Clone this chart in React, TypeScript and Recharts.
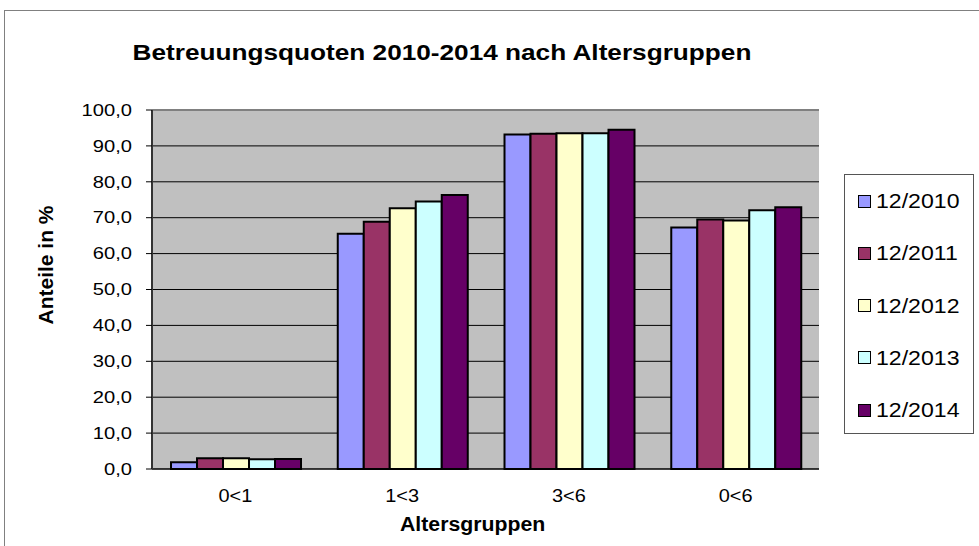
import React from 'react';
import { BarChart, Bar, XAxis, YAxis, CartesianGrid, ReferenceLine } from 'recharts';

const categories = ['0<1', '1<3', '3<6', '0<6'];
const seriesNames = ['12/2010', '12/2011', '12/2012', '12/2013', '12/2014'];
const s2010 = [1.9, 65.5, 93.2, 67.3];
const s2011 = [3.0, 68.9, 93.4, 69.5];
const s2012 = [3.0, 72.6, 93.5, 69.2];
const s2013 = [2.7, 74.5, 93.5, 72.1];
const s2014 = [2.8, 76.3, 94.5, 72.9];
const seriesValues = [s2010, s2011, s2012, s2013, s2014];
const seriesColors = ['#9999FF', '#993366', '#FFFFCC', '#CCFFFF', '#660066'];
const yTicks = [0, 10, 20, 30, 40, 50, 60, 70, 80, 90, 100];
const boundaryTicks = [0, 1, 2, 3, 4];

const data = categories.map((c, i) => {
  const row: any = { name: c };
  seriesNames.forEach((s, k) => {
    row[s] = seriesValues[k][i];
  });
  return row;
});

const FONT = '"Liberation Sans", Arial, sans-serif';
const fmt = (v: number) => v.toFixed(1).replace('.', ',');

const YTick = (props: any) => {
  const { x, y, payload } = props;
  return (
    <g transform={`translate(${x},${y})`}>
      <text x={0} y={0} dy="0.36em" textAnchor="end" fontSize={16} fontFamily={FONT} fill="#000" transform="scale(1.26,1)">
        {fmt(payload.value)}
      </text>
    </g>
  );
};

const XTick = (props: any) => {
  const { x, y, payload } = props;
  return (
    <g transform={`translate(${x},${y})`}>
      <text x={0} y={32} textAnchor="middle" fontSize={19} fontFamily={FONT} fill="#000" transform="scale(1.05,1)">
        {payload.value}
      </text>
    </g>
  );
};

export default function App() {
  return (
    <div style={{ position: 'absolute', left: 0, top: 0, width: 979, height: 546, background: '#fff', overflow: 'hidden', fontFamily: FONT }}>
      <div style={{ position: 'absolute', left: 4, top: 10, width: 1100, height: 700, borderTop: '1px solid #808080', borderLeft: '1px solid #808080' }} />
      <div style={{ position: 'absolute', left: 0, top: 0 }}>
        <BarChart
          width={979}
          height={546}
          data={data}
          margin={{ top: 110, right: 160, left: 0, bottom: 0 }}
          barCategoryGap="11.4%"
          barGap={0}
        >
          <CartesianGrid vertical={false} stroke="#000" fill="#C0C0C0" fillOpacity={1} />
          <XAxis
            xAxisId="a0"
            type="number"
            domain={[0, 4]}
            ticks={boundaryTicks}
            allowDataOverflow
            tick={false}
            tickSize={6}
            tickLine={{ stroke: '#000' }}
            axisLine={{ stroke: '#000', strokeWidth: 1 }}
            height={1}
          />
          <XAxis
            xAxisId="b1"
            dataKey="name"
            tickLine={false}
            tickSize={0}
            tickMargin={0}
            axisLine={false}
            tick={<XTick />}
            height={76}
            interval={0}
          />
          <YAxis
            domain={[0, 100]}
            ticks={yTicks}
            width={152}
            tickSize={6}
            tickMargin={14}
            tickLine={{ stroke: '#000' }}
            axisLine={{ stroke: '#333', strokeWidth: 2 }}
            tick={<YTick />}
            interval={0}
          />
          <ReferenceLine xAxisId="a0" x={4} stroke="#A0A0A0" strokeWidth={2} />
          <ReferenceLine xAxisId="a0" y={100} stroke="#808080" strokeWidth={2} />
          {seriesNames.map((s, k) => (
            <Bar
              key={s}
              xAxisId="b1"
              dataKey={s}
              fill={seriesColors[k]}
              stroke="#000"
              strokeWidth={2}
              isAnimationActive={false}
            />
          ))}
        </BarChart>
      </div>
      <div style={{ position: 'absolute', left: 131, top: 40, width: 621, textAlign: 'center', fontSize: 22, fontWeight: 'bold', whiteSpace: 'nowrap', lineHeight: '26px' }}>
        <span style={{ display: 'inline-block', transform: 'scaleX(1.19)' }}>Betreuungsquoten 2010-2014 nach Altersgruppen</span>
      </div>
      <div style={{ position: 'absolute', left: 373, top: 512, width: 200, textAlign: 'center', fontSize: 19.5, fontWeight: 'bold', whiteSpace: 'nowrap', lineHeight: '24px' }}>
        <span style={{ display: 'inline-block', transform: 'scaleX(1.09)' }}>Altersgruppen</span>
      </div>
      <div style={{ position: 'absolute', left: 46, top: 265, width: 0, height: 0 }}>
        <div style={{ position: 'absolute', left: -100, top: -13, width: 200, textAlign: 'center', fontSize: 21, fontWeight: 'bold', whiteSpace: 'nowrap', lineHeight: '26px', transform: 'rotate(-90deg)' }}>
          Anteile in %
        </div>
      </div>
      <div style={{ position: 'absolute', left: 844, top: 174, width: 128, height: 258, border: '1px solid #555', background: '#fff' }}>
        {seriesNames.map((s, k) => (
          <div key={s} style={{ position: 'absolute', left: 13, top: 14 + k * 52.3, height: 24, display: 'flex', alignItems: 'center', whiteSpace: 'nowrap' }}>
            <div style={{ width: 11, height: 11, background: seriesColors[k], border: '1.5px solid #000', marginRight: 5 }} />
            <span style={{ fontSize: 21, display: 'inline-block', transform: 'scaleX(1.1)', transformOrigin: 'left center' }}>{s}</span>
          </div>
        ))}
      </div>
    </div>
  );
}
